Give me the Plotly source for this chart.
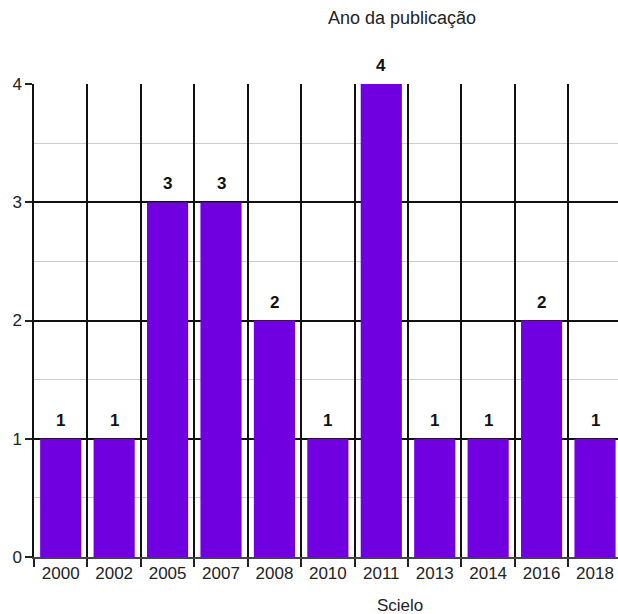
import plotly.graph_objects as go

years = ["2000", "2002", "2005", "2007", "2008", "2010", "2011", "2013", "2014", "2016", "2018"]
counts = [1, 1, 3, 3, 2, 1, 4, 1, 1, 2, 1]
y_ticks = [0, 1, 2, 3, 4]

W, H = 618, 614
ml, mr, mt, mb = 34, 0, 84, 57
font_family = "Liberation Sans, Arial, sans-serif"

fig = go.Figure()
fig.add_trace(go.Bar(
    x=years, y=counts,
    marker=dict(color="#7000e0", line=dict(width=0)),
    hoverinfo="x+y",
))

annotations = []
for i, c in enumerate(counts):
    annotations.append(dict(
        x=i, y=c, xref="x", yref="y", text="<b>%d</b>" % c, showarrow=False,
        yanchor="bottom", yshift=7,
        font=dict(family=font_family, size=17, color="#111111"),
    ))
annotations.append(dict(
    x=(400 - ml) / (W - ml - mr), y=-(605 - (H - mb)) / (H - mt - mb),
    xref="paper", yref="paper", xanchor="center", yanchor="middle",
    text="Scielo", showarrow=False,
    font=dict(family=font_family, size=17, color="#222222"),
))

fig.update_layout(
    width=W, height=H,
    margin=dict(l=ml, r=mr, t=mt, b=mb),
    paper_bgcolor="white", plot_bgcolor="white",
    font=dict(family=font_family, size=17, color="#222222"),
    bargap=0.23,
    showlegend=False,
    title=dict(text="Ano da publicação", x=402 / W, y=1 - 18 / H,
               xref="container", yref="container", xanchor="center", yanchor="middle",
               font=dict(family=font_family, size=18, color="#222222")),
    annotations=annotations,
    xaxis=dict(
        type="category",
        range=[-0.5, 10.43],
        tickson="boundaries",
        ticks="outside", ticklen=8, tickwidth=1.5, tickcolor="#222222",
        showgrid=True, gridcolor="#111111", gridwidth=1.5,
        showline=True, linecolor="#444444", linewidth=1.5,
        tickfont=dict(family=font_family, size=17, color="#222222"),
        fixedrange=True,
    ),
    yaxis=dict(
        range=[0, 4],
        tickvals=y_ticks,
        ticks="outside", ticklen=7, tickwidth=1.5, tickcolor="#222222",
        showgrid=True, gridcolor="#111111", gridwidth=1.5,
        showline=True, linecolor="#111111", linewidth=1.5,
        zeroline=False,
        minor=dict(dtick=0.5, showgrid=True, gridcolor="#cccccc", gridwidth=1, ticks=""),
        tickfont=dict(family=font_family, size=17, color="#222222"),
        fixedrange=True,
    ),
)

fig.write_html("out.html")
